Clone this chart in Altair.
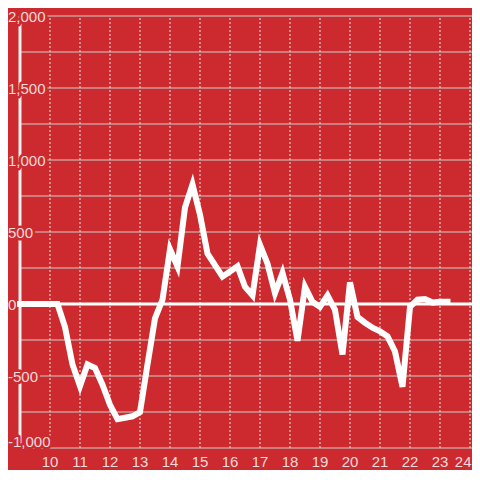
import altair as alt
import pandas as pd

# ---- data ----
hours = [9.0, 9.25, 9.5, 9.75, 10.0, 10.25, 10.5, 10.75, 11.0, 11.25, 11.5, 11.75,
         12.0, 12.25, 12.5, 12.75, 13.0, 13.25, 13.5, 13.75, 14.0, 14.25, 14.5, 14.75,
         15.0, 15.25, 15.5, 15.75, 16.0, 16.25, 16.5, 16.75, 17.0, 17.25, 17.5, 17.75,
         18.0, 18.25, 18.5, 18.75, 19.0, 19.25, 19.5, 19.75, 20.0, 20.25, 20.5, 20.75,
         21.0, 21.25, 21.5, 21.75, 22.0, 22.25, 22.5, 22.75, 23.0, 23.25]
values = [0, 0, 0, 0, 0, 0, -160, -420, -570, -420, -445, -560,
          -700, -800, -790, -780, -750, -420, -100, 30, 380, 260, 670, 830,
          620, 350, 270, 190, 225, 262, 120, 60, 410, 280, 75, 215,
          30, -255, 120, 15, -20, 60, -40, -350, 150, -90, -130, -165,
          -190, -225, -330, -575, -20, 30, 35, 10, 15, 15]

x_ticks = [10, 11, 12, 13, 14, 15, 16, 17, 18, 19, 20, 21, 22, 23, 24]
y_grid = [2000, 1750, 1500, 1250, 1000, 750, 500, 250, 0, -250, -500, -750, -1000]
y_label_values = [2000, 1500, 1000, 500, 0, -500]
y_label_texts = ["2,000", "1,500", "1,000", "500", "0", "-500"]
y_bottom_value = [-1000]
y_bottom_text = ["-1,000"]

BG = "#cc2a2f"
TXT = "#f3dada"
FONT = "Liberation Sans"
X_MIN, X_MAX = 9, 24.067
Y_MIN, Y_MAX = -1000, 2000
xs = alt.Scale(domain=[X_MIN, X_MAX], nice=False, zero=False)
ys = alt.Scale(domain=[Y_MIN, Y_MAX], nice=False, zero=False)

line_df = pd.DataFrame({"h": hours, "v": values})
hgrid_df = pd.DataFrame({"v": y_grid, "h": X_MIN, "h2": X_MAX})
vgrid_df = pd.DataFrame({"h": x_ticks, "t": [str(t) for t in x_ticks], "v": Y_MIN, "v2": Y_MAX})
xlab_mid = vgrid_df[vgrid_df["h"] < 24]
xlab_last = vgrid_df[vgrid_df["h"] == 24]
axis_df = pd.DataFrame({"h": [X_MIN], "v": [Y_MIN], "v2": [Y_MAX]})
zero_df = pd.DataFrame({"v": [0], "h": [X_MIN], "h2": [X_MAX]})
ylab_df = pd.DataFrame({"v": y_label_values, "t": y_label_texts, "h": X_MIN})
ybot_df = pd.DataFrame({"v": y_bottom_value, "t": y_bottom_text, "h": X_MIN})

X = lambda f="h": alt.X(f"{f}:Q", scale=xs, axis=None)
Y = lambda f="v": alt.Y(f"{f}:Q", scale=ys, axis=None)

hgrid = alt.Chart(hgrid_df).mark_rule(color="#cfcfcf", strokeWidth=1).encode(
    y=Y(), x=X(), x2="h2:Q")

vgrid = alt.Chart(vgrid_df).mark_rule(color="#e6e6e6", strokeWidth=1, strokeDash=[2, 2]).encode(
    x=X(), y=Y(), y2="v2:Q")

axis_line = alt.Chart(axis_df).mark_rule(color="#f2f2f2", strokeWidth=3).encode(
    x=X(), y=Y(), y2="v2:Q")

zero_line = alt.Chart(zero_df).mark_rule(color="#ffffff", strokeWidth=3).encode(
    y=Y(), x=X(), x2="h2:Q")


def ylabels(df, dy, halo):
    kw = dict(align="left", baseline="middle", dx=-12, dy=dy, font=FONT, fontSize=15)
    if halo:
        kw.update(fill=BG, stroke=BG, strokeWidth=5, strokeJoin="round")
    else:
        kw.update(fill=TXT)
    return alt.Chart(df).mark_text(**kw).encode(x=X(), y=Y(), text="t:N")


def xlabels(df, align, dx):
    return alt.Chart(df).mark_text(
        align=align, baseline="middle", dx=dx, dy=14, font=FONT, fontSize=15, fill=TXT
    ).encode(x=X(), y=Y(), text="t:N")


line = alt.Chart(line_df).mark_line(
    color="#ffffff", strokeWidth=6, strokeCap="square", strokeJoin="miter"
).encode(x=X(), y=Y())

chart = alt.layer(
    hgrid, vgrid, axis_line, zero_line,
    ylabels(ylab_df, 1, True), ylabels(ybot_df, -6, True),
    ylabels(ylab_df, 1, False), ylabels(ybot_df, -6, False),
    xlabels(xlab_mid, "center", 0), xlabels(xlab_last, "right", 1.5),
    line,
).properties(
    width=452,
    height=432,
    background=BG,
    padding={"left": 12, "top": 8, "right": 0, "bottom": 22},
    autosize=alt.AutoSizeParams(type="none"),
).configure_view(stroke=None)

chart.save("out.html", embed_options={"renderer": "svg", "actions": False})
